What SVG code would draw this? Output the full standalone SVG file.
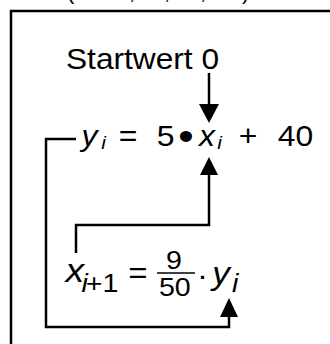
<svg xmlns="http://www.w3.org/2000/svg" width="330" height="344" viewBox="0 0 330 344">
<style>
.t{font-family:"Liberation Sans",Arial,sans-serif;fill:#000}
.i{font-style:italic}
.ln{fill:none;stroke:#000;stroke-width:2.5;stroke-linejoin:miter;stroke-linecap:butt}
.ah{fill:#000;stroke:none}
</style>
<rect width="330" height="344" fill="#fff"/>
<g id="frame">
<path class="ln" d="M11,344 V11 H340"/>
</g>
<g id="top-cut">
<text class="t" font-size="22" y="-1"><tspan x="67">(</tspan><tspan x="129">,</tspan><tspan x="164">,</tspan><tspan x="200">,</tspan><tspan x="242">)</tspan></text>
</g>
<g id="start">
<text class="t" font-size="30" x="66" y="69" textLength="153" lengthAdjust="spacingAndGlyphs">Startwert 0</text>
</g>
<g id="eq1" transform="matrix(1.1 0 0 1 0 0)">
<text class="t" font-size="29" y="146"><tspan class="i" x="74">y</tspan><tspan class="i" font-size="19" x="92" y="149">i</tspan><tspan x="108" y="146">=</tspan><tspan x="142.5">5</tspan><tspan font-size="40" x="162" y="150">•</tspan><tspan class="i" x="181" y="146">x</tspan><tspan class="i" font-size="19" x="197.5" y="149">i</tspan><tspan x="217" y="146">+</tspan><tspan x="252.5">40</tspan></text>
</g>
<g id="eq2">
<g transform="matrix(1.1 0 0 1 0 0)">
<text class="t i" font-size="34" x="59.5" y="282">x</text>
<text class="t" font-size="26" y="292"><tspan class="i" x="74">i</tspan><tspan x="78">+1</tspan></text>
<text class="t" font-size="30" x="116.5" y="283">=</text>
<text class="t" font-size="26" x="151" y="269">9</text>
<text class="t" font-size="26" x="144.5" y="296">50</text>
<text class="t" font-size="30" x="179" y="285">·</text>
<text class="t i" font-size="32" x="193" y="284">y</text>
<text class="t i" font-size="26" x="211" y="292">i</text>
</g>
<line x1="157" y1="273" x2="195" y2="273" stroke="#000" stroke-width="1.6"/>
</g>
<g id="connectors">
<path class="ln" d="M209,73 V106"/>
<polygon class="ah" points="199,104 219,104 209,123"/>
<path class="ln" d="M76,139 H46 V327 H229 V315"/>
<polygon class="ah" points="220,317 238,317 229,298"/>
<path class="ln" d="M76,253 V225 H209 V173"/>
<polygon class="ah" points="200,175 218,175 209,157"/>
</g>
</svg>
